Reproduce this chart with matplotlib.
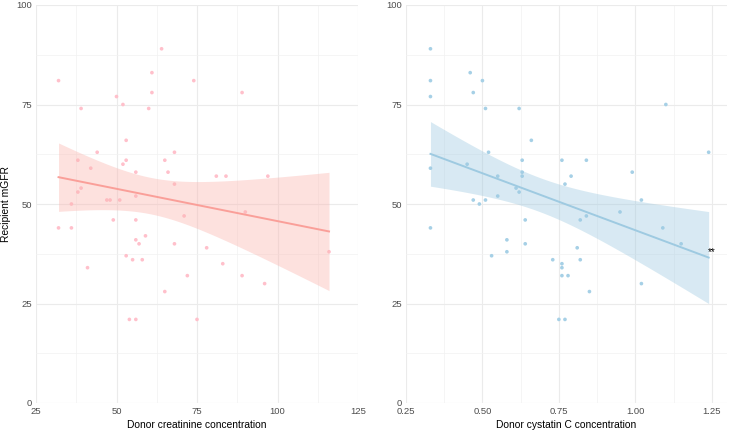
import matplotlib.pyplot as plt
import numpy as np

plt.rcParams['font.family'] = ['Liberation Sans', 'DejaVu Sans']

# ---------- Data ----------
creat_x = [32, 39, 50, 52, 60, 61, 61, 64, 74, 53, 44, 68, 38, 53, 52, 65, 42, 56, 66,
           68, 39, 38, 56, 36, 47, 48, 51, 89, 81, 84, 97, 71, 32, 36, 49, 56, 59, 56,
           57, 68, 53, 55, 58, 41, 72, 65, 54, 56, 75, 90, 78, 83, 89, 96, 116]
creat_y = [81, 74, 77, 75, 74, 78, 83, 89, 81, 66, 63, 63, 61, 61, 60, 61, 59, 58, 58,
           55, 54, 53, 52, 50, 51, 51, 51, 78, 57, 57, 57, 47, 44, 44, 46, 46, 42, 41,
           40, 40, 37, 36, 36, 34, 32, 28, 21, 21, 21, 48, 39, 35, 32, 30, 38]

cys_x = [0.33, 0.33, 0.33, 0.33, 0.46, 0.47, 0.50, 0.51, 0.62, 0.66, 0.52, 0.63, 0.76,
         0.45, 0.63, 0.63, 0.55, 0.61, 0.62, 0.55, 0.77, 0.47, 0.49, 0.51, 0.84, 0.79,
         0.99, 1.02, 1.10, 1.24, 0.33, 0.64, 0.58, 0.64, 0.58, 0.53, 0.73, 0.76, 0.76,
         0.76, 0.75, 0.77, 0.84, 0.82, 0.95, 1.09, 1.15, 0.81, 0.82, 0.78, 0.85, 1.02]
cys_y = [89, 81, 77, 59, 83, 78, 81, 74, 74, 66, 63, 61, 61, 60, 58, 57, 57, 54, 53,
         52, 55, 51, 50, 51, 61, 57, 58, 51, 75, 63, 44, 46, 41, 40, 38, 37, 36, 35,
         34, 32, 21, 21, 47, 46, 48, 44, 40, 39, 36, 32, 28, 30]

y_ticks = [0, 25, 50, 75, 100]
creat_ticks = [25, 50, 75, 100, 125]
cys_ticks = [0.25, 0.50, 0.75, 1.00, 1.25]

T_CRIT = 2.007  # 95% t quantile, ~50 df


def lm_band(x, y):
    x = np.asarray(x, float)
    y = np.asarray(y, float)
    n = len(x)
    b, a = np.polyfit(x, y, 1)
    resid = y - (a + b * x)
    s = np.sqrt((resid ** 2).sum() / (n - 2))
    sxx = ((x - x.mean()) ** 2).sum()
    xs = np.linspace(x.min(), x.max(), 80)
    fit = a + b * xs
    se = s * np.sqrt(1.0 / n + (xs - x.mean()) ** 2 / sxx)
    return xs, fit, fit - T_CRIT * se, fit + T_CRIT * se


W, H = 729, 433
fig = plt.figure(figsize=(W / 100, H / 100), dpi=100)
ax1 = fig.add_axes([36 / W, 30 / H, 322 / W, 398 / H])
ax2 = fig.add_axes([406 / W, 30 / H, 321 / W, 398 / H])

panels = [
    (ax1, creat_x, creat_y, '#FFC0CB', '#FA9F99', '#FBB4AE', creat_ticks, (25, 125),
     'Donor creatinine concentration', '{:.0f}'),
    (ax2, cys_x, cys_y, '#A6D0E6', '#9ECAE1', '#9ECAE1', cys_ticks, (0.25, 1.30),
     'Donor cystatin C concentration', '{:.2f}'),
]

for ax, x, y, pcol, lcol, fcol, xt, xl, xlab, fmt in panels:
    ax.scatter(x, y, s=7, color=pcol, edgecolors='none', zorder=3)
    xs, fit, lo, hi = lm_band(x, y)
    ax.fill_between(xs, lo, hi, color=fcol, alpha=0.4, linewidth=0, zorder=4)
    ax.plot(xs, fit, color=lcol, linewidth=1.4, zorder=5)

    ax.set_xlim(*xl)
    ax.set_ylim(0, 100)
    ax.set_xticks(xt)
    ax.set_xticklabels([fmt.format(v) for v in xt])
    ax.set_yticks(y_ticks)
    ax.set_xticks([(xt[i] + xt[i + 1]) / 2 for i in range(len(xt) - 1)], minor=True)
    ax.set_yticks([12.5, 37.5, 62.5, 87.5], minor=True)
    ax.grid(True, which='major', color='#EBEBEB', linewidth=0.8)
    ax.grid(True, which='minor', color='#F2F2F2', linewidth=0.5)
    ax.set_axisbelow(True)
    for sp in ax.spines.values():
        sp.set_visible(False)
    ax.tick_params(which='both', length=0, labelsize=6.8, labelcolor='#4D4D4D', pad=3)
    ax.set_xlabel(xlab, fontsize=7.4, labelpad=3)

ax1.set_ylabel('Recipient mGFR', fontsize=7.4, labelpad=4)
ax2.text(1.25, 38, '**', fontsize=7, color='black', ha='center', va='center', zorder=6)

fig.savefig('out.png', dpi=100)
